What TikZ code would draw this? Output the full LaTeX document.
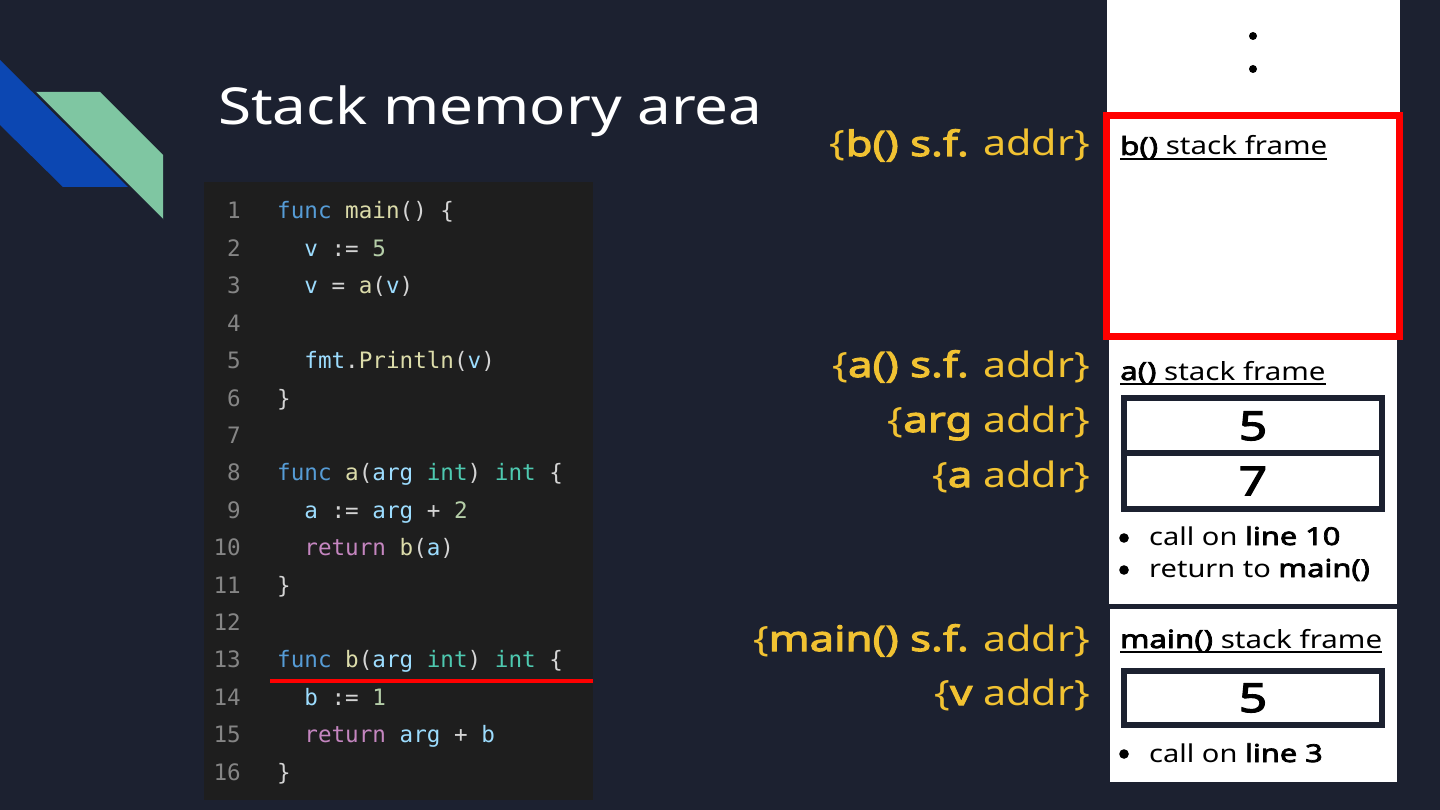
\documentclass[tikz,border=0pt]{standalone}
\usepackage{fontspec}
\setmainfont{Noto Sans}[UprightFeatures={FakeStretch=1.18}, BoldFont={Noto Sans}, BoldFeatures={FakeBold=3, FakeStretch=1.25}]
\setmonofont{DejaVu Sans Mono}

\definecolor{slidebg}{HTML}{1C2130}
\definecolor{codebg}{HTML}{1E1E1E}
\definecolor{deepblue}{HTML}{0C47B2}
\definecolor{mint}{HTML}{7FC6A2}
\definecolor{addrcol}{HTML}{F1C232}
\definecolor{lnum}{HTML}{858585}
\definecolor{kwcol}{HTML}{569CD6}
\definecolor{fncol}{HTML}{DCDCAA}
\definecolor{varcol}{HTML}{9CDCFE}
\definecolor{numcol}{HTML}{B5CEA8}
\definecolor{typcol}{HTML}{4EC9B0}
\definecolor{retcol}{HTML}{C586C0}
\definecolor{plain}{HTML}{D4D4D4}

\newcommand{\kw}[1]{\textcolor{kwcol}{#1}}
\newcommand{\fn}[1]{\textcolor{fncol}{#1}}
\newcommand{\vr}[1]{\textcolor{varcol}{#1}}
\newcommand{\nm}[1]{\textcolor{numcol}{#1}}
\newcommand{\ty}[1]{\textcolor{typcol}{#1}}
\newcommand{\rt}[1]{\textcolor{retcol}{#1}}

\tikzset{
  addr/.style={anchor=base east, text=addrcol, font=\fontsize{35}{40}\selectfont},
  frametitle/.style={anchor=base west, font=\fontsize{25}{30}\selectfont},
  cell/.style={draw=slidebg, line width=6pt},
  cellval/.style={font=\fontsize{40}{44}\selectfont\bfseries},
  note/.style={anchor=base west, font=\fontsize{24.6}{28}\selectfont},
}

\begin{document}
\begin{tikzpicture}[x=1pt, y=-1pt, every node/.style={inner sep=0pt}]
	\fill[slidebg] (0,0) rectangle (1440,810);
	\useasboundingbox (0,0) rectangle (1440,810);
	% corner decoration
	\fill[deepblue] (0,60) -- (128,187) -- (63,187) -- (0,125) -- cycle;
	\fill[mint] (35,92) -- (100,92) -- (163,155) -- (163,220) -- cycle;
	\draw[slidebg, line width=1.5pt] (35,92) -- (163,220);
	\node[anchor=base west, text=white, font=\fontsize{51}{60}\selectfont] (title) at (218,125) {Stack memory area};

	% code listing
	\fill[codebg] (204,182) rectangle (593,800);
	\foreach \n/\ind/\src in {1/0/{\kw{func} \fn{main}() \{}, 2/1/{\vr{v} := \nm{5}}, 3/1/{\vr{v} = \fn{a}(\vr{v})}, 4/0/{}, 5/1/{\vr{fmt}.\fn{Println}(\vr{v})}, 6/0/{\}}, 7/0/{}, 8/0/{\kw{func} \fn{a}(\vr{arg} \ty{int}) \ty{int} \{}, 9/1/{\vr{a} := \vr{arg} + \nm{2}}, 10/1/{\rt{return} \fn{b}(\vr{a})}, 11/0/{\}}, 12/0/{}, 13/0/{\kw{func} \fn{b}(\vr{arg} \ty{int}) \ty{int} \{}, 14/1/{\vr{b} := \nm{1}}, 15/1/{\rt{return} \vr{arg} + \vr{b}}, 16/0/{\}}} {
		\pgfmathsetmacro{\by}{219+(\n-1)*37.4}
		\pgfmathsetmacro{\bx}{277+\ind*27.2}
		\node[anchor=base east, text=lnum, font=\fontsize{22.6}{26}\ttfamily] (ln\n) at (241,\by) {\n};
		\node[anchor=base west, text=plain, font=\fontsize{22.6}{26}\ttfamily] (src\n) at (\bx,\by) {\src};
	}
	\draw[red, line width=4pt] (270,681) -- (593,681);

	% stack column
	\fill[white] (1107,0) rectangle (1400,112);
	\fill[white] (1103,112) rectangle (1403,340);
	\fill[white] (1109,340) rectangle (1397,604);
	\fill[white] (1110,609) rectangle (1397,782);
	\fill[black] (1253,36) circle (4);
	\fill[black] (1253,69) circle (4);
	\draw[red, line width=7pt] (1106.5,115.5) rectangle (1399.5,336.5);

	% b() frame
	\node[frametitle] (bframe) at (1120,155) {\textbf{b()} stack frame};
	\draw[line width=1.8pt] ([yshift=-4pt]bframe.base west) -- ([yshift=-4pt]bframe.base east);

	% a() frame
	\node[frametitle] (aframe) at (1120,380) {\textbf{a()} stack frame};
	\draw[line width=1.8pt] ([yshift=-4pt]aframe.base west) -- ([yshift=-4pt]aframe.base east);
	\draw[cell] (1124,398) rectangle (1382,453);
	\draw[cell] (1124,453) rectangle (1382,509);
	\node[cellval] (argval) at (1253,426) {5};
	\node[cellval] (aval) at (1253,481) {7};
	\fill (1124,538) circle (4.8);
	\fill (1124,570) circle (4.8);
	\node[note] (acall) at (1149,545) {call on \textbf{line 10}};
	\node[note] (aret) at (1149,577) {return to \textbf{main()}};

	% main() frame
	\node[frametitle] (mframe) at (1120,648) {\textbf{main()} stack frame};
	\draw[line width=1.8pt] ([yshift=-4pt]mframe.base west) -- ([yshift=-4pt]mframe.base east);
	\draw[cell] (1124,671) rectangle (1382,725);
	\node[cellval] (vval) at (1253,698) {5};
	\fill (1124,754) circle (4.8);
	\node[note] (mcall) at (1149,762) {call on \textbf{line 3}};

	% address labels
	\node[addr] (baddr) at (1090,156) {\{\textbf{b() s.f.} addr\}};
	\node[addr] (aaddr) at (1090,377) {\{\textbf{a() s.f.} addr\}};
	\node[addr] (argaddr) at (1090,432) {\{\textbf{arg} addr\}};
	\node[addr] (avaddr) at (1090,487) {\{\textbf{a} addr\}};
	\node[addr] (maddr) at (1090,651) {\{\textbf{main() s.f.} addr\}};
	\node[addr] (vaddr) at (1090,705) {\{\textbf{v} addr\}};
\end{tikzpicture}
\end{document}
